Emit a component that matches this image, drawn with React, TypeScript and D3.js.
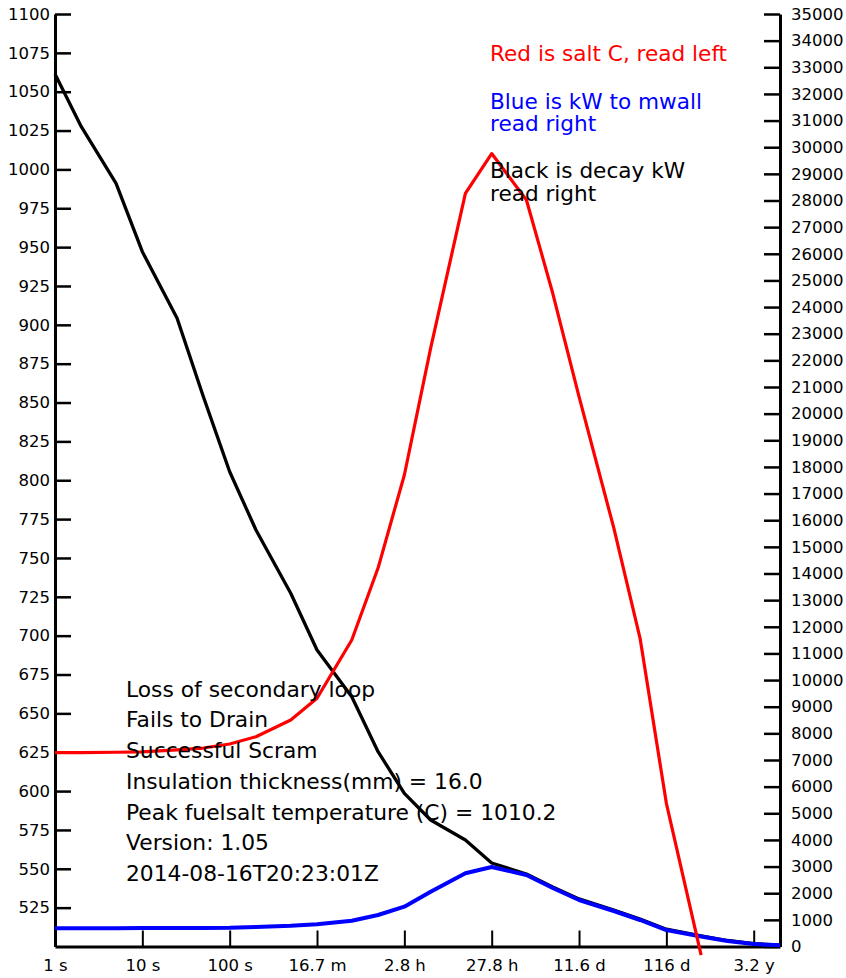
import React, { useEffect, useRef } from "react";
import * as d3 from "d3";

// time steps in seconds (log x axis)
const times = [
  1, 2, 5, 10, 25, 50, 100, 200, 500, 1000, 2500, 5000, 1e4, 2e4, 5e4, 1e5,
  2.5e5, 5e5, 1e6, 2.5e6, 5e6, 1e7, 2.5e7, 5e7, 1e8, 2e8,
];

// red: fuel salt temperature, C (left axis)
const saltC = [
  624.7, 624.8, 625, 625.2, 626.5, 627.7, 630.3, 635, 645.7, 659.7, 697.2,
  743.5, 803.4, 885, 984.6, 1010.2, 980.3, 920.3, 853.8, 769.3, 698.3, 592.1,
  494.5,
];

// blue: kW to mwall (right axis)
const wallKw = [
  683, 683, 685, 690, 695, 698, 702, 732, 777, 833, 968, 1182, 1494, 2057,
  2747, 2984, 2684, 2196, 1745, 1332, 995, 619, 375, 206, 94, 45,
];

// black: decay heat kW (right axis)
const decayKw = [
  32750, 30770, 28646, 26078, 23579, 20636, 17821, 15633, 13257, 11129, 9376,
  7312, 5750, 4748, 3997, 3134, 2720, 2236, 1785, 1370, 1030, 650, 400, 225,
  110, 55,
];

const xTickValues = [1, 10, 100, 1e3, 1e4, 1e5, 1e6, 1e7, 1e8];
const xTickLabels = ["1 s", "10 s", "100 s", "16.7 m", "2.8 h", "27.8 h", "11.6 d", "116 d", "3.2 y"];

const legendLines = [
  { text: "Red is salt C, read left", color: "#ff0000" },
  { text: "Blue is kW to mwall", color: "#0000ff" },
  { text: "read right", color: "#0000ff" },
  { text: "Black is decay kW", color: "#000000" },
  { text: "read right", color: "#000000" },
];
const legendBaselines = [61, 108.5, 131, 178, 200.5];

const notes = [
  "Loss of secondary loop",
  "Fails to Drain",
  "Successful Scram",
  "Insulation thickness(mm) = 16.0",
  "Peak fuelsalt temperature (C) = 1010.2",
  "Version: 1.05",
  "2014-08-16T20:23:01Z",
];

const W = 846;
const H = 978;
const FONT = "DejaVu Sans, sans-serif";

const App: React.FC = () => {
  const svgRef = useRef<SVGSVGElement>(null);

  useEffect(() => {
    const svg = d3.select(svgRef.current);
    svg.selectAll("*").remove();

    const left = 55;
    const right = 780;
    const top = 14;
    const bottom = 946.5;

    const x = d3.scaleLog().domain([1, 2e8]).range([left, right]);
    const yL = d3.scaleLinear().domain([500, 1100]).range([bottom, top]);
    const yR = d3.scaleLinear().domain([0, 35000]).range([bottom, top]);

    const styleAxis = (g: any, tickWidth: number) => {
      g.attr("font-family", FONT).attr("font-size", 16.5);
      g.select(".domain").attr("stroke-width", 3);
      g.selectAll(".tick line").attr("stroke-width", tickWidth);
      g.selectAll(".tick text").attr("fill", "#000");
    };

    // left axis
    svg
      .append("g")
      .attr("transform", `translate(${left},0)`)
      .call(
        d3
          .axisLeft(yL)
          .tickValues(d3.range(525, 1101, 25))
          .tickSizeInner(-16)
          .tickSizeOuter(0)
          .tickPadding(5)
          .tickFormat(d3.format("d"))
      )
      .call((g) => styleAxis(g, 2.5));

    // right axis
    svg
      .append("g")
      .attr("transform", `translate(${right},0)`)
      .call(
        d3
          .axisRight(yR)
          .tickValues(d3.range(0, 35001, 1000))
          .tickSizeInner(-16)
          .tickSizeOuter(0)
          .tickPadding(11)
          .tickFormat(d3.format("d"))
      )
      .call((g) => styleAxis(g, 2.5));

    // bottom axis
    svg
      .append("g")
      .attr("transform", `translate(0,${bottom})`)
      .call(
        d3
          .axisBottom(x)
          .tickValues(xTickValues)
          .tickSizeInner(-16)
          .tickSizeOuter(0)
          .tickPadding(13)
          .tickFormat((d, i) => xTickLabels[i])
      )
      .call((g) => styleAxis(g, 2));

    const lineL = d3
      .line<[number, number]>()
      .x((d) => x(d[0]))
      .y((d) => yL(d[1]));
    const lineR = d3
      .line<[number, number]>()
      .x((d) => x(d[0]))
      .y((d) => yR(d[1]));

    const pairs = (vals: number[]) =>
      vals.map((v, i) => [times[i], v] as [number, number]);

    svg
      .append("path")
      .attr("d", lineR(pairs(decayKw)) || "")
      .attr("fill", "none")
      .attr("stroke", "#000")
      .attr("stroke-width", 3.3)
      .attr("stroke-linejoin", "round");

    svg
      .append("path")
      .attr("d", lineR(pairs(wallKw)) || "")
      .attr("fill", "none")
      .attr("stroke", "#0000ff")
      .attr("stroke-width", 4)
      .attr("stroke-linejoin", "round");

    svg
      .append("path")
      .attr("d", lineL(pairs(saltC)) || "")
      .attr("fill", "none")
      .attr("stroke", "#ff0000")
      .attr("stroke-width", 3.2)
      .attr("stroke-linejoin", "round");

    // legend text
    svg
      .append("g")
      .selectAll("text")
      .data(legendLines)
      .join("text")
      .attr("x", 490)
      .attr("y", (d, i) => legendBaselines[i])
      .attr("fill", (d) => d.color)
      .attr("font-family", FONT)
      .attr("font-size", 21.6)
      .text((d) => d.text);

    // notes block
    svg
      .append("g")
      .selectAll("text")
      .data(notes)
      .join("text")
      .attr("x", 126)
      .attr("y", (d, i) => 696.7 + i * 30.7)
      .attr("fill", "#000")
      .attr("font-family", FONT)
      .attr("font-size", 21.8)
      .text((d) => d);
  }, []);

  return (
    <div style={{ position: "absolute", left: 0, top: 0 }}>
      <svg ref={svgRef} width={W} height={H} style={{ display: "block", background: "#fff" }} />
    </div>
  );
};

export default App;
